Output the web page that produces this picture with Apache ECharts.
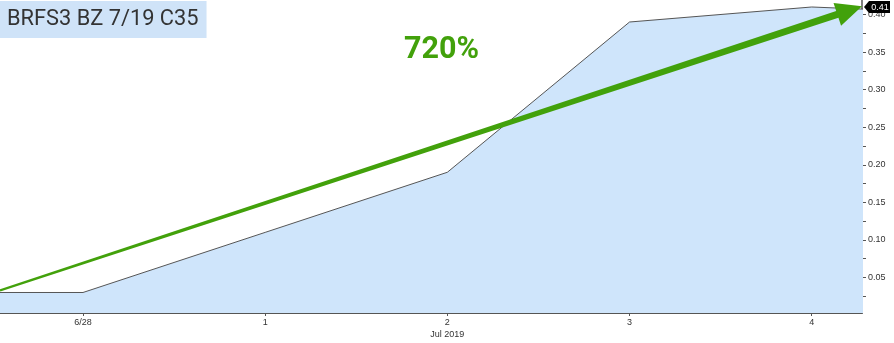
<!DOCTYPE html>
<html><head><meta charset="utf-8">
<script src="https://cdn.jsdelivr.net/npm/echarts@6/dist/echarts.min.js"></script>
<style>html,body{margin:0;padding:0;background:#fff}#c{width:894px;height:343px}</style>
</head><body><div id="c"></div>
<script>
// ---- data ----
const titleText = 'BRFS3 BZ 7/19 C35';
const changeLabel = '720%';
const dayLabels = ['6/28', '1', '2', '3', '4'];
const monthLabel = 'Jul 2019';
const dayIndex = [-1, 0, 1, 2, 3, 4, 5];
const prices = [0.03, 0.03, 0.11, 0.19, 0.39, 0.41, 0.40];
const yTickLabels = [0.05, 0.10, 0.15, 0.20, 0.25, 0.30, 0.35, 0.40];
const yMinorTicks = [0.025, 0.075, 0.125, 0.175, 0.225, 0.275, 0.325, 0.375];
const lastValue = 0.41;
const arrowStart = [-0.4555, 0.0327];
const arrowEnd = [4.276, 0.411];

const X_MIN = -0.4555, X_MAX = 4.276, Y_MIN = 0.0027, Y_MAX = 0.4193;
const GREEN = '#42a10b';

const chart = echarts.init(document.getElementById('c'), null, {renderer: 'canvas'});

function arrowRender(params, api) {
  const p0 = api.coord([api.value(0), api.value(1)]);
  const p1 = api.coord([api.value(2), api.value(3)]);
  const dx = p1[0] - p0[0], dy = p1[1] - p0[1];
  const L = Math.sqrt(dx * dx + dy * dy);
  const ux = dx / L, uy = dy / L;
  const nx = -uy, ny = ux;
  const headLen = 26, headHalf = 12, w0 = 1.1, w1 = 3.6;
  const bx = p1[0] - ux * headLen, by = p1[1] - uy * headLen;
  const pts = [
    [p0[0] + nx * w0, p0[1] + ny * w0],
    [bx + nx * w1, by + ny * w1],
    [bx + nx * headHalf, by + ny * headHalf],
    [p1[0], p1[1]],
    [bx - nx * headHalf, by - ny * headHalf],
    [bx - nx * w1, by - ny * w1],
    [p0[0] - nx * w0, p0[1] - ny * w0]
  ];
  return {type: 'polygon', shape: {points: pts}, style: {fill: GREEN}};
}

function tagRender(params, api) {
  const p = api.coord([api.value(0), api.value(1)]);
  const x = p[0] + 2, y = p[1];
  return {
    type: 'group',
    children: [
      {type: 'polygon', shape: {points: [[x, y], [x + 5, y - 6], [x + 26, y - 6], [x + 26, y + 6], [x + 5, y + 6]]},
       style: {fill: '#000'}},
      {type: 'text', style: {text: String(api.value(1).toFixed(2)), x: x + 16, y: y + 0.5, fill: '#fff',
        font: '9px "Liberation Sans", Arial, sans-serif', align: 'center', verticalAlign: 'middle'}}
    ]
  };
}

const option = {
  animation: false,
  backgroundColor: '#fff',
  title: {
    text: titleText, left: 0, top: 1,
    backgroundColor: '#cfe3f8',
    padding: [8, 8, 7, 7],
    textStyle: {color: '#333', fontSize: 21.8, fontWeight: 'normal', fontFamily: 'Roboto, sans-serif'}
  },
  graphic: [
    {type: 'text', left: 404, top: 35,
     style: {text: changeLabel, fill: GREEN, font: 'bold 30.5px Roboto, sans-serif'}}
  ],
  grid: {left: 0, right: 32, top: 0, bottom: 30, containLabel: false},
  xAxis: {
    type: 'value', min: X_MIN, max: X_MAX,
    axisLine: {show: true, onZero: false, lineStyle: {color: '#555', width: 2}},
    axisTick: {show: true, customValues: [0, 1, 2, 3, 4], length: 3, lineStyle: {color: '#555'}},
    axisLabel: {
      customValues: [0, 1, 2, 3, 4],
      color: '#333', fontSize: 9, fontFamily: '"Liberation Sans Narrow", "Liberation Sans", sans-serif',
      margin: 4, lineHeight: 12,
      formatter: v => {
        const i = Math.round(v);
        return i === 2 ? dayLabels[i] + '\n' + monthLabel : dayLabels[i];
      }
    },
    splitLine: {show: false}
  },
  yAxis: {
    type: 'value', position: 'right', min: Y_MIN, max: Y_MAX,
    axisLine: {show: true, onZero: false, lineStyle: {color: '#555', width: 1.5}},
    axisTick: {show: true, inside: false, length: 4, customValues: yTickLabels.concat(yMinorTicks),
      lineStyle: {color: '#555'}},
    axisLabel: {customValues: yTickLabels, color: '#333', fontSize: 9, margin: 6,
      fontFamily: '"Liberation Sans", Arial, sans-serif', formatter: v => v.toFixed(2)},
    splitLine: {show: false}
  },
  series: [
    {
      type: 'line', data: dayIndex.map((d, i) => [d, prices[i]]),
      symbol: 'none', clip: true,
      lineStyle: {color: '#555', width: 1},
      areaStyle: {color: '#cfe5fb', opacity: 1, origin: 'start'},
      z: 2
    },
    {
      type: 'custom', renderItem: arrowRender, clip: false, z: 5,
      data: [[arrowStart[0], arrowStart[1], arrowEnd[0], arrowEnd[1]]],
      encode: {x: [0, 2], y: [1, 3]}
    },
    {
      type: 'custom', renderItem: tagRender, clip: false, z: 6,
      data: [[X_MAX, lastValue]]
    }
  ]
};
chart.setOption(option);
</script></body></html>
